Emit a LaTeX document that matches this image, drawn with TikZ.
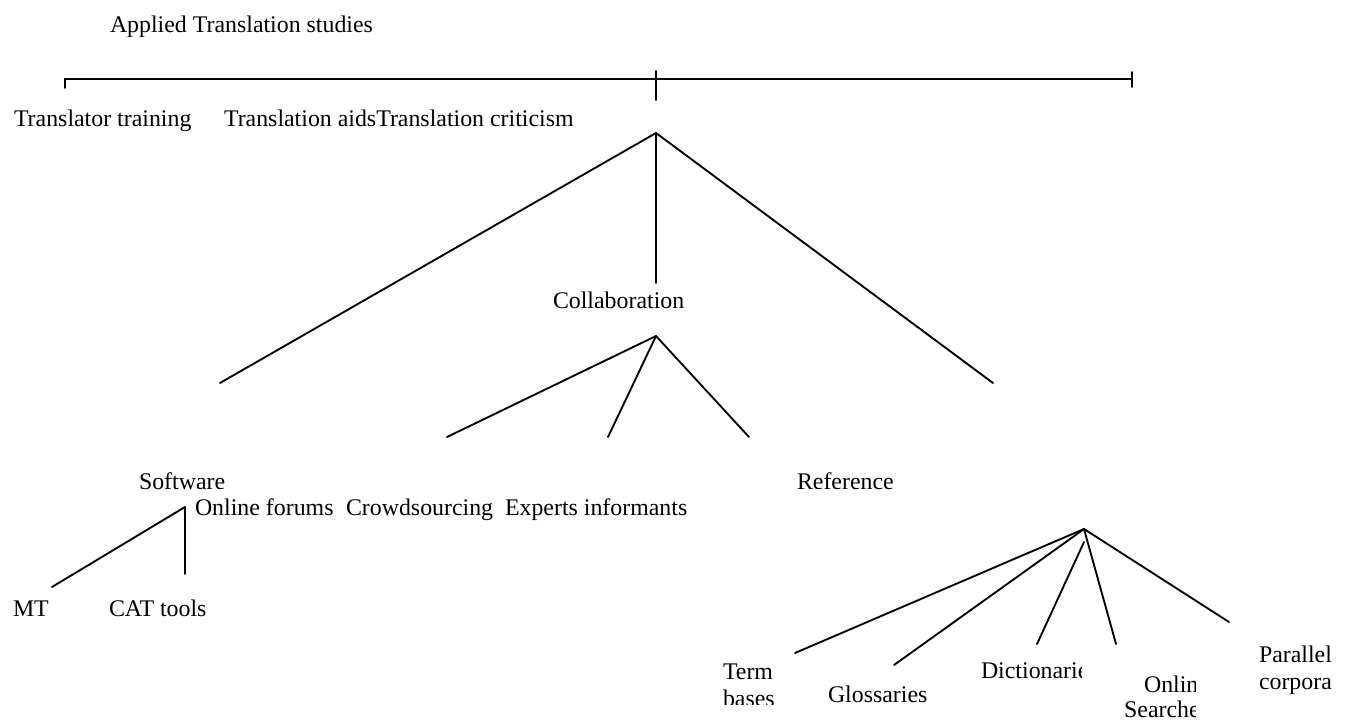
\documentclass[tikz,border=0pt]{standalone}
\usepackage{fontspec}
\setmainfont{Liberation Serif}
\begin{document}
\begin{tikzpicture}[x=0.75pt,y=-0.75pt,
  lbl/.style={anchor=base west,inner sep=0pt,outer sep=0pt,font=\fontsize{17.9}{20}\selectfont},
  branch/.style={line width=1.4pt,line cap=round}]
\useasboundingbox (0,0) rectangle (1351,720);

% title
\node[lbl] (title) at (110,33) {Applied Translation studies};

% top bracket
\coordinate (bl) at (65,79);
\coordinate (bl2) at (65,88);
\coordinate (br) at (1132,79);
\coordinate (brt) at (1132,72);
\coordinate (brb) at (1132,87);
\coordinate (bmt) at (656,71);
\coordinate (bmb) at (656,100);
\draw[branch] (bl2) -- (bl) -- (br);
\draw[branch] (brt) -- (brb);
\draw[branch] (bmt) -- (bmb);

% first row of branches
\node[lbl] (training) at (14,127) {Translator training};
\node[lbl] (aids) at (224,127) {Translation aids};
\node[lbl] (criticism) at (aids.base east) {Translation criticism};

% translation aids: three branches
\coordinate (A) at (656,133);
\coordinate (Asw) at (220,383);
\coordinate (Acol) at (656,283);
\coordinate (Aref) at (993,383);
\draw[branch] (A) -- (Asw);
\draw[branch] (A) -- (Acol);
\draw[branch] (A) -- (Aref);

\node[lbl] (collab) at (553,308) {Collaboration};

% collaboration: three branches
\coordinate (C) at (656,336);
\coordinate (C1) at (447,437);
\coordinate (C2) at (608,437);
\coordinate (C3) at (749,437);
\draw[branch] (C) -- (C1);
\draw[branch] (C) -- (C2);
\draw[branch] (C) -- (C3);

\node[lbl] (software) at (139,489) {Software};
\node[lbl] (reference) at (797,489) {Reference};
\node[lbl] (forums) at (195,515) {Online forums};
\node[lbl] (crowd) at (346,515) {Crowdsourcing};
\node[lbl] (experts) at (505,515) {Experts informants};

% software: two branches
\coordinate (S) at (185,507);
\coordinate (S1) at (52,587);
\coordinate (S2) at (185,574);
\draw[branch] (S) -- (S1);
\draw[branch] (S) -- (S2);

\node[lbl] (mt) at (13,616) {MT};
\node[lbl] (cat) at (109,616) {CAT tools};

% reference: five branches
\coordinate (R) at (1084,529);
\coordinate (Rd) at (1084,542);
\coordinate (R1) at (795,653);
\coordinate (R2) at (894,665);
\coordinate (R3) at (1037,644);
\coordinate (R4) at (1116,644);
\coordinate (R5) at (1229,622);
\draw[branch] (R) -- (R1);
\draw[branch] (R) -- (R2);
\draw[branch] (Rd) -- (R3);
\draw[branch] (R) -- (R4);
\draw[branch] (R) -- (R5);

% reference leaves (boxes cut off at their edges)
\begin{scope}
  \clip (700,640) rectangle (800,704.5);
  \node[lbl] (term) at (723,679) {Term};
  \node[lbl] (bases) at (723,706) {bases};
\end{scope}
\node[lbl] (gloss) at (828,702) {Glossaries};
\begin{scope}
  \clip (960,640) rectangle (1081,700);
  \node[lbl] (dict) at (981,678) {Dictionaries};
\end{scope}
\begin{scope}
  \clip (1110,660) rectangle (1195,720);
  \node[lbl,anchor=base east] (online) at (1209,692) {Online};
  \node[lbl,anchor=base east] (searches) at (1209,717) {Searches};
\end{scope}
\node[lbl] (parallel) at (1259,662) {Parallel};
\node[lbl] (corpora) at (1259,689) {corpora};
\end{tikzpicture}
\end{document}
